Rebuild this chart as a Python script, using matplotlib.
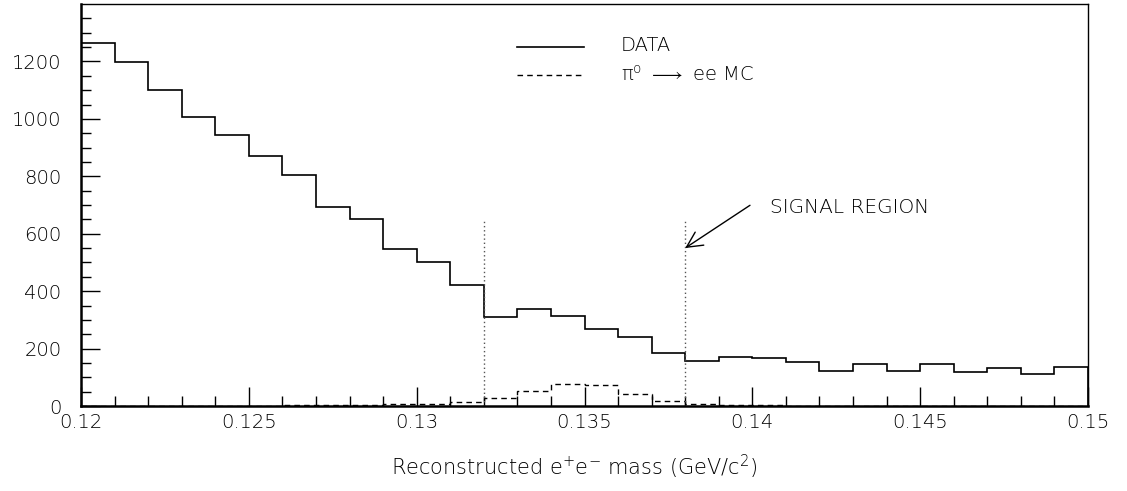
import numpy as np
import matplotlib
matplotlib.use("Agg")
import matplotlib.pyplot as plt
from matplotlib.ticker import MultipleLocator, FixedLocator, FuncFormatter

plt.rcParams['font.family'] = ['DejaVu Sans']
plt.rcParams['font.weight'] = 'light'
plt.rcParams['axes.labelweight'] = 'light'
plt.rcParams['mathtext.fontset'] = 'custom'
plt.rcParams['mathtext.rm'] = 'DejaVu Sans:light'
plt.rcParams['mathtext.it'] = 'DejaVu Sans:light'
plt.rcParams['mathtext.default'] = 'rm'

# Histogram binning: 30 bins of 1 MeV from 0.120 to 0.150 GeV
bin_edges = np.round(np.arange(0.120, 0.1505, 0.001), 4)

data_counts = [1263, 1197, 1100, 1008, 945, 872, 806, 693, 650, 546,
               503, 420, 311, 337, 314, 269, 242, 183, 158, 172,
               168, 154, 122, 145, 121, 145, 119, 133, 112, 135]

mc_counts = [0, 0, 0, 0, 1, 1, 2, 3, 5, 6,
             8, 13, 27, 53, 75, 72, 42, 17, 7, 4,
             2, 0, 0, 0, 0, 0, 0, 0, 0, 0]

signal_window = [0.132, 0.138]
signal_line_top = 650

x_ticks = [0.12, 0.125, 0.13, 0.135, 0.14, 0.145, 0.15]
x_tick_labels = ["0.12", "0.125", "0.13", "0.135", "0.14", "0.145", "0.15"]
y_ticks = [0, 200, 400, 600, 800, 1000, 1200]

fig = plt.figure(figsize=(11.27, 4.91), dpi=100)
ax = fig.add_axes([81 / 1127, 1 - 406 / 491, (1088 - 81) / 1127, (406 - 4) / 491])

ax.stairs(data_counts, bin_edges, color='black', linewidth=1.2)
ax.stairs(mc_counts, bin_edges, color='black', linewidth=1.0,
          linestyle=(0, (4, 3)))

for xv in signal_window:
    ax.plot([xv, xv], [0, signal_line_top], color='#555555',
            linewidth=1.0, linestyle=(0, (1, 2)))

# Arrow pointing at the upper edge of the signal window
ax.annotate("", xy=(0.138, 550), xytext=(0.13993, 699),
            arrowprops=dict(arrowstyle='->', color='black', lw=1.0,
                            mutation_scale=28, shrinkA=0, shrinkB=0))
ax.text(0.14052, 692, "SIGNAL REGION", fontsize=14.5, va='center', ha='left',
        color='black')

# Legend drawn by hand in data coordinates
ax.plot([0.13299, 0.13498], [1249, 1249], color='black', linewidth=1.2)
ax.plot([0.13299, 0.13498], [1151, 1151], color='black', linewidth=1.0,
        linestyle=(0, (4, 3)))
ax.text(0.13609, 1254, "DATA", fontsize=14, va='center', ha='left',
        color='black')
ax.text(0.13609, 1153, r"$\pi^{\mathrm{o}}$ $\longrightarrow$ ee MC",
        fontsize=14, va='center', ha='left', color='black')

ax.set_xlim(0.12, 0.15)
ax.set_ylim(0, 1400)

ax.set_xticks(x_ticks)
ax.set_xticklabels(x_tick_labels)
ax.xaxis.set_minor_locator(MultipleLocator(0.001))
ax.yaxis.set_major_locator(FixedLocator(y_ticks))
ax.yaxis.set_minor_locator(FixedLocator(np.arange(50, 1400, 50)))
ax.yaxis.set_major_formatter(FuncFormatter(lambda v, p: f"{int(v)}"))

ax.tick_params(axis='both', which='major', direction='in', length=14,
               width=1.0, labelsize=14, labelcolor='black',
               top=False, right=False)
ax.tick_params(axis='both', which='minor', direction='in', length=7,
               width=1.0, top=False, right=False)
ax.tick_params(axis='x', pad=5)
ax.tick_params(axis='y', pad=14)

for side in ['left', 'bottom']:
    ax.spines[side].set_linewidth(1.8)
for side in ['top', 'right']:
    ax.spines[side].set_linewidth(1.0)

ax.set_xlabel(r"Reconstructed e$^{+}$e$^{-}$ mass (GeV/c$^{2}$)",
              fontsize=15, color='black', fontweight='light')
ax.xaxis.set_label_coords((574 - 81) / (1088 - 81), -(467 - 406) / 402)
ax.xaxis.label.set_va('center')

fig.savefig("out.png", dpi=100)
